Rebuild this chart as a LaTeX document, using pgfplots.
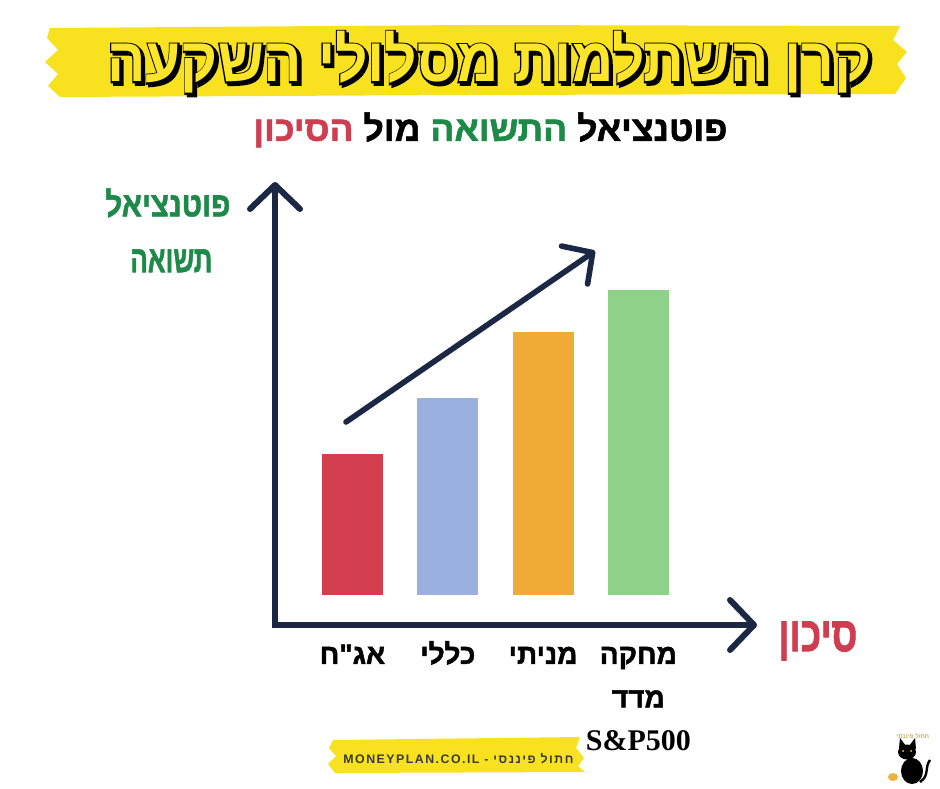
\documentclass[border=0pt]{standalone}
\usepackage{fontspec}
\usepackage{graphicx}
\usepackage{pgfplots}
\pgfplotsset{compat=1.18}
\usetikzlibrary{arrows.meta}
\TeXXeTstate=1
\setmainfont{Liberation Sans}
\newfontfamily\heb[Script=Hebrew]{Liberation Sans}
\newfontfamily\hebheavy[Script=Hebrew,FakeBold=1.6]{Liberation Sans}
\newfontfamily\hebol[Script=Hebrew,FakeBold=5]{Liberation Sans}
\newfontfamily\lserif{Liberation Serif}
\newfontfamily\tagfont[Script=Hebrew,LetterSpace=12]{Liberation Sans}

\definecolor{navy}{HTML}{1B2845}
\definecolor{cred}{HTML}{D43F50}
\definecolor{cblue}{HTML}{9AB0DE}
\definecolor{corange}{HTML}{F0AA36}
\definecolor{cgreen}{HTML}{8ED28A}
\definecolor{bandy}{HTML}{F8E11F}
\definecolor{titley}{HTML}{FCE52A}
\definecolor{tgreen}{HTML}{1D8A48}
\definecolor{tred}{HTML}{CF3E50}
\definecolor{tagtext}{HTML}{3A3A3A}
\definecolor{coin}{HTML}{F0B040}
\definecolor{gold}{HTML}{C9A85C}

\newbox\titlebox
\newbox\titleol
\begin{document}
\setbox\titlebox=\hbox{\resizebox*{382pt}{31pt}{\heb\bfseries\beginR קרן השתלמות מסלולי השקעה\endR}}%
\setbox\titleol=\hbox{\resizebox*{382pt}{31pt}{\hebol\bfseries\beginR קרן השתלמות מסלולי השקעה\endR}}%
\begin{tikzpicture}
\begin{scope}[yshift=394pt, x=0.5pt, y=-0.5pt]
\path[use as bounding box, fill=white] (0,0) rectangle (940,788);
% title band
\fill[bandy] (50,28) -- (470,25) -- (900,26) -- (893,40) -- (907,52) -- (897,64) -- (906,78) -- (895,94)
  -- (470,95) -- (60,97) -- (48,86) -- (58,74) -- (45,62) -- (58,50) -- (47,38) -- cycle;
% title: shadow, outline, fill
\node[anchor=north west, inner sep=0pt, text=black] at (109.5,33.5) {\copy\titleol};
\node[anchor=north west, inner sep=0pt, text=black] at (107,31) {\copy\titleol};
\node[anchor=north west, inner sep=0pt, text=titley] at (107,31) {\copy\titlebox};
% subtitle (words in visual left-to-right order)
\node[anchor=north west, inner sep=0pt] at (253,112) {\resizebox*{237pt}{17.5pt}{\hebheavy\bfseries
  {\color{tred}\beginR הסיכון\endR}\ \beginR מול\endR\ {\color{tgreen}\beginR התשואה\endR}\ \beginR פוטנציאל\endR}};
% y label
\node[anchor=north west, inner sep=0pt, text=tgreen] at (105,188) {\resizebox*{62.5pt}{14.5pt}{\hebheavy\bfseries\beginR פוטנציאל\endR}};
\node[anchor=north west, inner sep=0pt, text=tgreen] at (130,249) {\resizebox*{41pt}{11.5pt}{\hebheavy\bfseries\beginR תשואה\endR}};
% x label
\node[anchor=north west, inner sep=0pt, text=tred] at (778,621) {\resizebox*{39.5pt}{19.5pt}{\hebheavy\bfseries\beginR סיכון\endR}};
% bottom tag
\fill[bandy] (333,740) -- (580,737) -- (576,748) -- (584,758) -- (578,766) -- (585,772) -- (335,773) -- (328,764) -- (336,756) -- (329,748) -- cycle;
\node[anchor=base west, inner sep=0pt, text=tagtext] at (343,763) {\resizebox{115pt}{!}{\tagfont\bfseries\fontsize{6}{7}\selectfont MONEYPLAN.CO.IL\ -\ \beginR חתול פיננסי\endR}};
% cat logo
\node[text=gold, inner sep=0pt] at (913,736) {\heb\bfseries\fontsize{3}{3}\selectfont\beginR חתול פיננסי\endR};
\fill[black] (912,771) ellipse [x radius=11, y radius=13];
\fill[black] (907,752) ellipse [x radius=9, y radius=7.5];
\fill[black] (899,748) -- (900,738) -- (906,746) -- cycle;
\fill[black] (909,746) -- (915,738) -- (916,749) -- cycle;
\fill[yellow!80!orange] (903,751) circle [radius=1];
\fill[yellow!80!orange] (911,751) circle [radius=1];
\draw[black, line width=1.2pt] (920,782) .. controls (930,775) and (924,768) .. (930,760);
\fill[coin] (893,777) ellipse [x radius=5, y radius=4];
\end{scope}

\begin{axis}[
  at={(137.5pt,81.5pt)}, anchor=south west,
  scale only axis, width=241pt, height=221.5pt,
  xmin=-0.813, xmax=4.245, ymin=-30, ymax=413,
  axis lines=left, axis line style={draw=none},
  ytick=\empty, xtick={0,1,2,3},
  xticklabels={{\beginR אג"ח\endR},{\beginR כללי\endR},{\beginR מניתי\endR},{\beginR מחקה\endR\\\beginR מדד\endR\\{\lserif\bfseries\fontsize{15}{21.75}\selectfont S\&P500}}},
  major tick length=0pt, xtick style={draw=none},
  typeset ticklabels with strut,
  xticklabel style={anchor=north, inner sep=0pt, yshift=-4pt, align=center, text=black,
    font=\hebheavy\bfseries\fontsize{14}{21.75}\selectfont},
  bar width=0.64, clip=false,
]
\addplot[ybar, bar shift=0pt, fill=cred, draw=none] coordinates {(0,141)};
\addplot[ybar, bar shift=0pt, fill=cblue, draw=none] coordinates {(1,197)};
\addplot[ybar, bar shift=0pt, fill=corange, draw=none] coordinates {(2,263)};
\addplot[ybar, bar shift=0pt, fill=cgreen, draw=none] coordinates {(3,305)};
\addplot[navy, line width=2.8pt, line cap=round, -{Straight Barb[round, length=11pt, width=23pt]}] coordinates {(-0.068,173) (2.545,344)};
\draw[navy, line width=3pt, line join=miter,
  {Straight Barb[round, length=12pt, width=25pt]}-{Straight Barb[round, length=12pt, width=25pt]}]
  (rel axis cs:0,1) -- (rel axis cs:0,0) -- (rel axis cs:1,0);
\end{axis}
\end{tikzpicture}
\end{document}
